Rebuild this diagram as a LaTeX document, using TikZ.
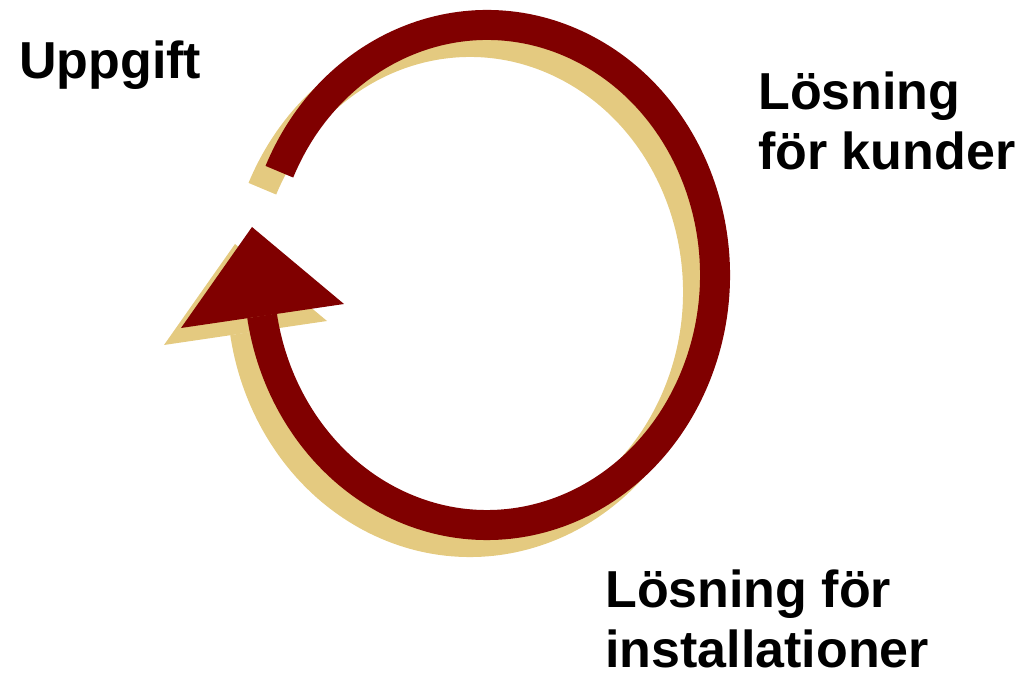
\documentclass[tikz,border=0pt]{standalone}
\usepackage{fontspec}
\setmainfont{Liberation Sans}
\usetikzlibrary{calc}
\definecolor{arrowred}{HTML}{800000}
\definecolor{shadowtan}{HTML}{E4CA80}
\begin{document}
\begin{tikzpicture}[x=0.75pt,y=0.75pt,
  ring/.style={line width=22.5pt,line cap=butt},
  lbl/.style={anchor=base west,inner sep=0pt,align=left,font=\bfseries\fontsize{39}{45.5}\selectfont}]
\useasboundingbox (0,0) rectangle (1025,678);
\coordinate (c) at (487,403);
\coordinate (tip) at (252,451);
\coordinate (bl) at (181,350);
\coordinate (br) at (344,374);
\coordinate (sh) at (-17,-17);
% shadow
\draw[ring,shadowtan] ($(c)+(sh)+(155.6:228 and 250)$) arc[start angle=155.6,end angle=-170.6,x radius=228,y radius=250];
\fill[shadowtan] ($(tip)+(sh)$) -- ($(bl)+(sh)$) -- ($(br)+(sh)$) -- cycle;
% arrow
\draw[ring,arrowred] ($(c)+(155.6:228 and 250)$) arc[start angle=155.6,end angle=-170.6,x radius=228,y radius=250];
\fill[arrowred] (tip) -- (bl) -- (br) -- cycle;
% labels
\node[lbl] (upp) at (19,599) {Uppgift};
\node[lbl] (kund) at (758,508) {Lösning\\för kunder};
\node[lbl] (inst) at (605,10) {Lösning för\\installationer};
\end{tikzpicture}
\end{document}
